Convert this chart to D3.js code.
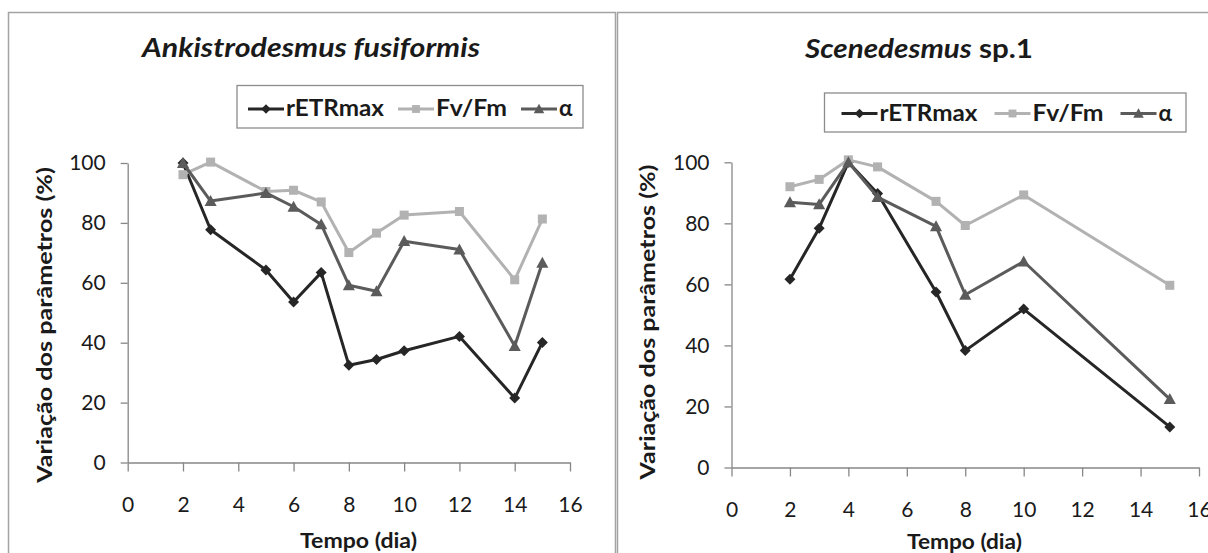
<!DOCTYPE html>
<html>
<head>
<meta charset="utf-8">
<script src="https://cdn.jsdelivr.net/npm/d3@7"></script>
<style>
  html, body { margin: 0; padding: 0; background: #fff; }
  svg { display: block; }
  text { font-family: Lato, "Open Sans", "Noto Sans", sans-serif; fill: #1a1a1a; }
</style>
</head>
<body>
<svg id="chart" width="1208" height="553"></svg>
<script>
// ---- data -------------------------------------------------------------
const seriesNames = ["rETRmax", "Fv/Fm", "α"];

// Ankistrodesmus fusiformis
const daysA   = [2, 3, 5, 6, 7, 8, 9, 10, 12, 14, 15];
const rETRA   = [100, 77.7, 64.3, 53.6, 63.4, 32.5, 34.4, 37.3, 42.1, 21.5, 40.1];
const fvfmA   = [96.1, 100.3, 90.5, 90.9, 87.0, 70.1, 76.6, 82.6, 83.8, 61.0, 81.3];
const alphaA  = [100, 87.3, 90.0, 85.4, 79.5, 59.2, 57.2, 73.9, 71.1, 38.9, 66.7];

// Scenedesmus sp.1
const daysS   = [2, 3, 4, 5, 7, 8, 10, 15];
const rETRS   = [61.7, 78.4, 100, 89.8, 57.5, 38.3, 51.9, 13.3];
const fvfmS   = [92.0, 94.4, 100.8, 98.5, 87.2, 79.3, 89.3, 59.7];
const alphaS  = [86.9, 86.2, 100, 88.6, 79.0, 56.6, 67.5, 22.4];

const xTicks = [0, 2, 4, 6, 8, 10, 12, 14, 16];
const yTicks = [0, 20, 40, 60, 80, 100];

const titleA = [{ t: "Ankistrodesmus fusiformis", italic: true }];
const titleS = [{ t: "Scenedesmus", italic: true }, { t: " sp.1", italic: false }];
const yLabel = "Variação dos parâmetros (%)";
const xLabel = "Tempo (dia)";

// ---- styles -----------------------------------------------------------
const colors  = ["#262626", "#b2b2b2", "#5b5b5b"];
const markers = ["diamond", "square", "triangle"];
const axisColor = "#878787";
const frameColor = "#a3a3a3";

const svg = d3.select("#chart");

function markerPath(kind, s) {
  if (kind === "diamond") return `M0,${-s}L${s},0L0,${s}L${-s},0Z`;
  if (kind === "square")  return `M${-s * 0.82},${-s * 0.82}h${s * 1.64}v${s * 1.64}h${-s * 1.64}Z`;
  return `M0,${-s * 1.1}L${s * 1.1},${s * 0.9}L${-s * 1.1},${s * 0.9}Z`;
}

// stretch/squeeze a text element horizontally so it spans `w` pixels
function fitText(sel, cx, cy, w, rot) {
  const n = sel.node().getComputedTextLength();
  sel.attr("x", 0).attr("y", 0)
     .attr("transform", `translate(${cx},${cy})${rot ? " rotate(" + rot + ")" : ""} scale(${w / n},1)`);
}

// ---- panel frames -----------------------------------------------------
svg.append("rect").attr("x", 8.5).attr("y", 12.5).attr("width", 607).attr("height", 600)
  .attr("fill", "none").attr("stroke", frameColor).attr("stroke-width", 1.5);
svg.append("rect").attr("x", 617.5).attr("y", 12.5).attr("width", 620).attr("height", 600)
  .attr("fill", "none").attr("stroke", frameColor).attr("stroke-width", 1.5);

const panels = [
  {
    days: daysA, values: [rETRA, fvfmA, alphaA], title: titleA,
    titleX: 311, titleY: 57, titleW: 338,
    x0: 127.7, x1: 570, y0: 462.5, y1: 163,
    legend: { x: 237, y: 85.5, w: 346, h: 42.5, padL: 11, gap: 14, base: 116 },
    yLab: { x: 52, y: 325, w: 316 }, xLab: { x: 358.5, y: 548, w: 117 }
  },
  {
    days: daysS, values: [rETRS, fvfmS, alphaS], title: titleS,
    titleX: 919, titleY: 58, titleW: 228,
    x0: 731.5, x1: 1199, y0: 467.5, y1: 162.3,
    legend: { x: 824.5, y: 93, w: 361.5, h: 39, padL: 17, gap: 17, base: 120.5 },
    yLab: { x: 655, y: 322, w: 315 }, xLab: { x: 964.5, y: 549, w: 115 }
  }
];

const legendTextW = [98, 71, 13.5];

panels.forEach(p => {
  const g = svg.append("g");
  const x = d3.scaleLinear().domain([0, 16]).range([p.x0, p.x1]);
  const y = d3.scaleLinear().domain([0, 100]).range([p.y0, p.y1]);

  // title
  const tt = g.append("text").attr("text-anchor", "middle")
    .style("font-size", "27px").style("font-weight", "bold");
  p.title.forEach(part => tt.append("tspan").text(part.t)
    .style("font-style", part.italic ? "italic" : "normal"));
  fitText(tt, p.titleX, p.titleY, p.titleW);

  // axes
  const ya = g.append("g").attr("transform", `translate(${p.x0},0)`)
    .call(d3.axisLeft(y).tickValues(yTicks).tickSize(7).tickSizeOuter(0).tickPadding(15));
  const xa = g.append("g").attr("transform", `translate(0,${p.y0})`)
    .call(d3.axisBottom(x).tickValues(xTicks).tickSize(9).tickSizeOuter(0).tickPadding(26));
  [ya, xa].forEach(a => {
    a.select(".domain").attr("stroke", axisColor).attr("stroke-width", 1.3);
    a.selectAll(".tick line").attr("stroke", axisColor).attr("stroke-width", 1.3);
    a.selectAll(".tick text").attr("fill", "#1a1a1a")
      .style("font-size", "21px").style("font-family", "Lato, 'Open Sans', sans-serif");
  });

  // axis titles
  const yl = g.append("text").attr("text-anchor", "middle")
    .style("font-size", "21.5px").style("font-weight", "bold").text(yLabel);
  fitText(yl, p.yLab.x, p.yLab.y, p.yLab.w, -90);
  const xl = g.append("text").attr("text-anchor", "middle")
    .style("font-size", "21.5px").style("font-weight", "bold").text(xLabel);
  fitText(xl, p.xLab.x, p.xLab.y, p.xLab.w);

  // series
  const line = d3.line().x(d => x(d.day)).y(d => y(d.v));
  p.values.forEach((vals, i) => {
    const pts = p.days.map((day, k) => ({ day, v: vals[k] }));
    g.append("path").datum(pts).attr("d", line)
      .attr("fill", "none").attr("stroke", colors[i]).attr("stroke-width", 3)
      .attr("stroke-linejoin", "round");
    g.selectAll(null).data(pts).enter().append("path")
      .attr("transform", d => `translate(${x(d.day)},${y(d.v)})`)
      .attr("d", markerPath(markers[i], 5.5))
      .attr("fill", colors[i]);
  });

  // legend
  const L = p.legend;
  g.append("rect").attr("x", L.x).attr("y", L.y).attr("width", L.w).attr("height", L.h)
    .attr("fill", "#fff").attr("stroke", "#8c8c8c").attr("stroke-width", 1.3);
  let cx = L.x + L.padL;
  const midY = L.base - 7;
  seriesNames.forEach((name, i) => {
    g.append("line").attr("x1", cx).attr("x2", cx + 36).attr("y1", midY).attr("y2", midY)
      .attr("stroke", colors[i]).attr("stroke-width", 3);
    g.append("path").attr("transform", `translate(${cx + 18},${midY})`)
      .attr("d", markerPath(markers[i], 4.8)).attr("fill", colors[i]);
    const t = g.append("text").attr("text-anchor", "start")
      .style("font-size", "23px").style("font-weight", "bold").text(name);
    const n = t.node().getComputedTextLength();
    t.attr("x", 0).attr("y", 0)
      .attr("transform", `translate(${cx + 38},${L.base}) scale(${legendTextW[i] / n},1)`);
    cx += 38 + legendTextW[i] + L.gap;
  });
});
</script>
</body>
</html>
